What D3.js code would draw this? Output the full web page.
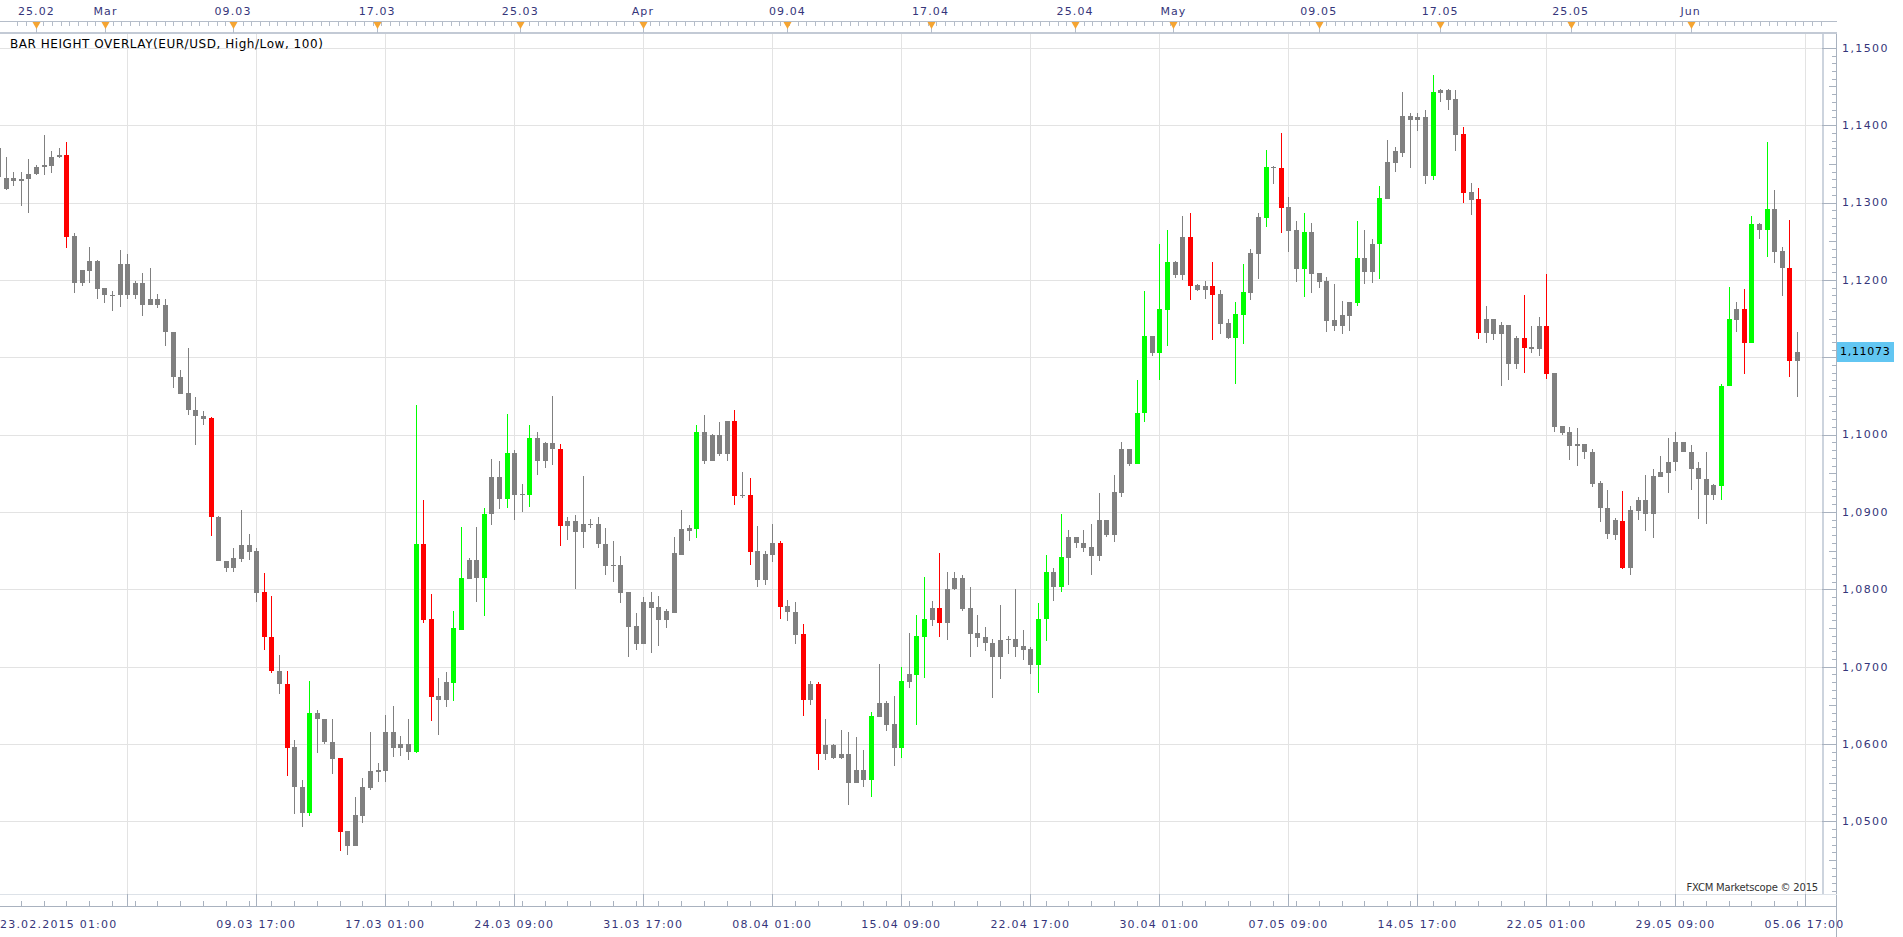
<!DOCTYPE html>
<html>
<head>
<meta charset="utf-8">
<title>EUR/USD bar height overlay</title>
<script src="https://d3js.org/d3.v7.min.js"></script>
<style>
	body { margin: 0; background: #fff; }
	svg { display: block; }
	text { font-family: "DejaVu Sans", Verdana, sans-serif; }
</style>
</head>
<body>
<svg id="chart" width="1903" height="937"></svg>

<script>
// 8 hour candles, 23.02.2015 01:00 .. 05.06.2015 09:00
var open = [
	1.1370,1.1332,1.1328,1.1331,1.1330,1.1337,1.1346,1.1347,1.1359,1.1362,
	1.1257,1.1196,1.1212,1.1225,1.1189,1.1180,1.1180,1.1221,1.1180,1.1196,
	1.1167,1.1175,1.1168,1.1133,1.1075,1.1054,1.1032,1.1024,1.1021,1.0894,
	1.0837,1.0828,1.0839,1.0857,1.0849,1.0796,1.0739,1.0695,1.0678,1.0596,
	1.0545,1.0511,1.0640,1.0633,1.0603,1.0582,1.0487,1.0468,1.0507,1.0543,
	1.0564,1.0565,1.0615,1.0595,1.0600,1.0590,1.0859,1.0761,1.0662,1.0657,
	1.0679,1.0748,1.0813,1.0838,1.0815,1.0897,1.0945,1.0917,1.0976,1.0922,
	1.0922,1.0995,1.0966,1.0989,1.0982,1.0882,1.0888,1.0874,1.0885,1.0884,
	1.0859,1.0830,1.0831,1.0797,1.0752,1.0729,1.0784,1.0777,1.0760,1.0770,
	1.0845,1.0879,1.0878,1.1004,1.0966,1.1000,1.0975,1.1018,1.0920,1.0922,
	1.0849,1.0812,1.0845,1.0860,1.0778,1.0771,1.0742,1.0657,1.0677,1.0587,
	1.0599,1.0582,1.0587,1.0549,1.0566,1.0554,1.0635,1.0653,1.0626,1.0595,
	1.0680,1.0689,1.0739,1.0760,1.0776,1.0756,1.0800,1.0814,1.0776,1.0743,
	1.0738,1.0731,1.0713,1.0736,1.0736,1.0727,1.0723,1.0702,1.0761,1.0823,
	1.0803,1.0841,1.0867,1.0860,1.0855,1.0843,1.0889,1.0870,1.0925,1.0981,
	1.0962,1.1028,1.1127,1.1106,1.1161,1.1223,1.1206,1.1255,1.1194,1.1187,
	1.1192,1.1182,1.1144,1.1125,1.1155,1.1183,1.1234,1.1280,1.1346,1.1344,
	1.1294,1.1264,1.1214,1.1262,1.1209,1.1199,1.1148,1.1141,1.1153,1.1170,
	1.1228,1.1210,1.1247,1.1305,1.1351,1.1364,1.1412,1.1407,1.1411,1.1334,
	1.1442,1.1445,1.1434,1.1389,1.1313,1.1304,1.1131,1.1149,1.1130,1.1142,
	1.1091,1.1125,1.1111,1.1111,1.1141,1.1080,1.1011,1.1003,1.0985,1.0988,
	1.0978,1.0938,1.0905,1.0870,1.0888,1.0828,1.0901,1.0916,1.0897,1.0945,
	1.0951,1.0964,1.0990,1.0978,1.0957,1.0943,1.0922,1.0933,1.1063,1.1148,
	1.1162,1.1119,1.1272,1.1264,1.1292,1.1237,1.1216,1.1095
];
var high = [
	1.1378,1.1359,1.1339,1.1339,1.1356,1.1349,1.1387,1.1366,1.1371,1.1378,
	1.1261,1.1213,1.1242,1.1226,1.1189,1.1185,1.1238,1.1233,1.1198,1.1209,
	1.1215,1.1182,1.1175,1.1133,1.1083,1.1112,1.1049,1.1030,1.1023,1.0895,
	1.0837,1.0853,1.0903,1.0871,1.0853,1.0821,1.0791,1.0715,1.0694,1.0605,
	1.0553,1.0681,1.0644,1.0633,1.0632,1.0582,1.0487,1.0532,1.0556,1.0616,
	1.0576,1.0638,1.0649,1.0611,1.0633,1.1038,1.0916,1.0794,1.0685,1.0693,
	1.0772,1.0880,1.0840,1.0880,1.0905,1.0969,1.0966,1.1026,1.0980,1.0936,
	1.1012,1.1003,1.0990,1.1050,1.0988,1.0893,1.0896,1.0946,1.0891,1.0893,
	1.0879,1.0863,1.0843,1.0797,1.0770,1.0790,1.0797,1.0792,1.0774,1.0867,
	1.0903,1.0883,1.1012,1.1025,1.1001,1.1016,1.1018,1.1032,1.0952,1.0944,
	1.0882,1.0850,1.0885,1.0863,1.0786,1.0783,1.0755,1.0681,1.0680,1.0633,
	1.0600,1.0618,1.0615,1.0609,1.0592,1.0642,1.0704,1.0656,1.0662,1.0699,
	1.0744,1.0767,1.0816,1.0785,1.0847,1.0822,1.0822,1.0819,1.0803,1.0767,
	1.0751,1.0736,1.0780,1.0740,1.0800,1.0747,1.0726,1.0782,1.0845,1.0828,
	1.0898,1.0877,1.0867,1.0877,1.0885,1.0925,1.0890,1.0948,1.0990,1.0981,
	1.1071,1.1186,1.1127,1.1246,1.1264,1.1224,1.1282,1.1287,1.1195,1.1199,
	1.1223,1.1187,1.1150,1.1172,1.1221,1.1240,1.1286,1.1368,1.1347,1.1390,
	1.1307,1.1276,1.1286,1.1273,1.1209,1.1204,1.1195,1.1173,1.1172,1.1276,
	1.1264,1.1253,1.1322,1.1381,1.1372,1.1443,1.1416,1.1416,1.1419,1.1465,
	1.1447,1.1447,1.1445,1.1397,1.1325,1.1319,1.1166,1.1150,1.1146,1.1142,
	1.1128,1.1180,1.1141,1.1152,1.1207,1.1080,1.1011,1.1010,1.1008,1.0988,
	1.0981,1.0940,1.0928,1.0892,1.0927,1.0908,1.0919,1.0948,1.0956,1.0972,
	1.0995,1.1004,1.0990,1.0986,1.0965,1.0977,1.0936,1.1066,1.1191,1.1172,
	1.1188,1.1282,1.1273,1.1378,1.1316,1.1242,1.1278,1.1133
];
var low = [
	1.1300,1.1316,1.1322,1.1295,1.1287,1.1336,1.1336,1.1338,1.1357,1.1241,
	1.1183,1.1192,1.1196,1.1175,1.1170,1.1160,1.1165,1.1175,1.1175,1.1153,
	1.1167,1.1164,1.1114,1.1060,1.1053,1.1025,1.0986,1.1013,1.0869,1.0836,
	1.0823,1.0822,1.0835,1.0838,1.0784,1.0721,1.0692,1.0665,1.0559,1.0510,
	1.0493,1.0507,1.0588,1.0600,1.0561,1.0462,1.0457,1.0468,1.0498,1.0541,
	1.0551,1.0551,1.0583,1.0584,1.0579,1.0588,1.0756,1.0630,1.0612,1.0648,
	1.0656,1.0747,1.0813,1.0783,1.0766,1.0883,1.0904,1.0905,1.0890,1.0900,
	1.0906,1.0948,1.0957,1.0961,1.0856,1.0864,1.0800,1.0853,1.0879,1.0853,
	1.0819,1.0809,1.0782,1.0713,1.0722,1.0729,1.0718,1.0727,1.0750,1.0769,
	1.0845,1.0862,1.0866,1.0962,1.0966,1.0972,1.0966,1.0909,1.0918,1.0832,
	1.0803,1.0805,1.0835,1.0762,1.0759,1.0729,1.0636,1.0650,1.0566,1.0579,
	1.0581,1.0581,1.0521,1.0549,1.0545,1.0531,1.0635,1.0617,1.0571,1.0582,
	1.0672,1.0624,1.0685,1.0753,1.0738,1.0734,1.0799,1.0772,1.0712,1.0725,
	1.0720,1.0660,1.0684,1.0716,1.0712,1.0708,1.0691,1.0666,1.0733,1.0785,
	1.0797,1.0805,1.0853,1.0848,1.0819,1.0836,1.0867,1.0861,1.0919,1.0959,
	1.0962,1.1016,1.1101,1.1071,1.1115,1.1203,1.1200,1.1174,1.1186,1.1175,
	1.1122,1.1130,1.1124,1.1066,1.1117,1.1174,1.1201,1.1269,1.1324,1.1261,
	1.1236,1.1197,1.1178,1.1183,1.1190,1.1133,1.1134,1.1130,1.1134,1.1166,
	1.1195,1.1196,1.1201,1.1304,1.1340,1.1359,1.1344,1.1393,1.1324,1.1329,
	1.1430,1.1419,1.1366,1.1299,1.1284,1.1123,1.1119,1.1122,1.1063,1.1071,
	1.1085,1.1080,1.1105,1.1102,1.1072,1.1003,1.1000,1.0967,1.0960,1.0969,
	1.0932,1.0887,1.0865,1.0864,1.0826,1.0818,1.0889,1.0875,1.0866,1.0945,
	1.0924,1.0953,1.0977,1.0929,1.0891,1.0885,1.0915,1.0916,1.1063,1.1132,
	1.1078,1.1119,1.1253,1.1229,1.1222,1.1179,1.1074,1.1048
];
var close = [
	1.1333,1.1317,1.1332,1.1328,1.1337,1.1346,1.1348,1.1359,1.1362,1.1256,
	1.1196,1.1213,1.1225,1.1188,1.1180,1.1181,1.1221,1.1180,1.1196,1.1167,
	1.1175,1.1167,1.1132,1.1074,1.1053,1.1032,1.1024,1.1020,1.0893,1.0836,
	1.0827,1.0840,1.0857,1.0848,1.0795,1.0738,1.0694,1.0678,1.0595,1.0544,
	1.0511,1.0640,1.0632,1.0603,1.0581,1.0486,1.0468,1.0508,1.0544,1.0565,
	1.0566,1.0615,1.0595,1.0600,1.0590,1.0859,1.0760,1.0661,1.0657,1.0680,
	1.0750,1.0814,1.0838,1.0815,1.0898,1.0945,1.0917,1.0976,1.0922,1.0923,
	1.0995,1.0966,1.0989,1.0981,1.0882,1.0888,1.0874,1.0885,1.0883,1.0859,
	1.0830,1.0831,1.0795,1.0751,1.0729,1.0784,1.0776,1.0760,1.0772,1.0847,
	1.0878,1.0876,1.1004,1.0966,1.1000,1.0975,1.1018,1.0920,1.0922,1.0848,
	1.0812,1.0846,1.0860,1.0777,1.0771,1.0741,1.0657,1.0677,1.0587,1.0599,
	1.0582,1.0587,1.0549,1.0566,1.0554,1.0636,1.0653,1.0624,1.0595,1.0681,
	1.0690,1.0740,1.0761,1.0776,1.0756,1.0800,1.0814,1.0775,1.0742,1.0737,
	1.0730,1.0713,1.0735,1.0734,1.0726,1.0722,1.0702,1.0762,1.0823,1.0803,
	1.0842,1.0867,1.0860,1.0854,1.0843,1.0889,1.0870,1.0926,1.0981,1.0962,
	1.1028,1.1128,1.1106,1.1162,1.1223,1.1206,1.1255,1.1192,1.1187,1.1192,
	1.1181,1.1143,1.1125,1.1156,1.1184,1.1235,1.1281,1.1346,1.1344,1.1293,
	1.1263,1.1214,1.1262,1.1208,1.1197,1.1147,1.1141,1.1155,1.1172,1.1228,
	1.1210,1.1247,1.1306,1.1353,1.1366,1.1412,1.1407,1.1411,1.1334,1.1443,
	1.1445,1.1433,1.1387,1.1312,1.1303,1.1131,1.1149,1.1130,1.1142,1.1091,
	1.1125,1.1112,1.1113,1.1141,1.1078,1.1010,1.1002,1.0985,1.0988,1.0977,
	1.0936,1.0905,1.0871,1.0889,1.0828,1.0902,1.0916,1.0897,1.0946,1.0952,
	1.0965,1.0990,1.0977,1.0956,1.0942,1.0922,1.0935,1.1063,1.1149,1.1162,
	1.1119,1.1272,1.1264,1.1292,1.1236,1.1215,1.1095,1.1107
];

// bars flagged by the bar height overlay (drawn red / green)
var overlayBars = [9,28,35,36,38,41,45,55,56,57,60,61,64,67,70,74,92,97,99,103,
	106,108,115,119,121,122,124,137,138,140,150,151,153,154,157,160,163,164,167,169,
	172,179,182,189,193,195,201,204,214,227,228,230,231,233,236];

var lastPrice = 1.11073;
var priceTicks = [1.05, 1.06, 1.07, 1.08, 1.09, 1.10, 1.11, 1.12, 1.13, 1.14, 1.15];

// bottom labels sit on every 17th bar
var dateLabels = ["23.02.2015 01:00", "", "09.03 17:00", "17.03 01:00", "24.03 09:00",
	"31.03 17:00", "08.04 01:00", "15.04 09:00", "22.04 17:00", "30.04 01:00",
	"07.05 09:00", "14.05 17:00", "22.05 01:00", "29.05 09:00", "05.06 17:00"];
var dateStep = 17;

// top calendar strip (position in bars)
var topLabels = ["25.02", "Mar", "09.03", "17.03", "25.03", "Apr", "09.04", "17.04",
	"25.04", "May", "09.05", "17.05", "25.05", "Jun"];
var topLabelPos = [5.05, 14.15, 30.95, 49.95, 68.8, 84.95, 104, 122.85, 141.9, 154.85,
	174, 190, 207.2, 223];

var svg = d3.select("#chart");
var W = 1903, H = 937;
var plotLeft = 0, plotRight = 1822, plotTop = 34, plotBottom = 894;
var axisX = 1836.5;
var labelColor = "#35357a";

var x = d3.scaleLinear().domain([0, 238]).range([-1.9, 1804.5]);
var y = d3.scaleLinear().domain([1.05, 1.15]).range([821.4, 47.8]);

svg.append("rect").attr("width", W).attr("height", H).attr("fill", "#fff");

// grid
var grid = svg.append("g").attr("shape-rendering", "crispEdges");
grid.selectAll("line.h").data(priceTicks).enter().append("line")
	.attr("x1", plotLeft).attr("x2", plotRight)
	.attr("y1", function (d) { return Math.round(y(d)) + 0.5; })
	.attr("y2", function (d) { return Math.round(y(d)) + 0.5; })
	.attr("stroke", "#e3e3e3");
grid.selectAll("line.v").data(d3.range(1, dateLabels.length)).enter().append("line")
	.attr("x1", function (k) { return Math.round(x(k * dateStep)) + 0.5; })
	.attr("x2", function (k) { return Math.round(x(k * dateStep)) + 0.5; })
	.attr("y1", plotTop).attr("y2", plotBottom)
	.attr("stroke", "#e3e3e3");

// candles
svg.append("clipPath").attr("id", "plotclip").append("rect")
	.attr("x", plotLeft).attr("y", plotTop)
	.attr("width", plotRight - plotLeft).attr("height", plotBottom - plotTop);

var bars = d3.range(open.length).map(function (i) {
	return { i: i, o: open[i], h: high[i], l: low[i], c: close[i] };
});

function barColor(d) {
	if (overlayBars.indexOf(d.i) < 0) return "#808080";
	return d.c < d.o ? "#ff0000" : "#00ff00";
}

var candles = svg.append("g").attr("clip-path", "url(#plotclip)")
	.attr("shape-rendering", "crispEdges")
	.selectAll("g.bar").data(bars).enter().append("g").attr("class", "bar");

candles.append("rect")
	.attr("x", function (d) { return Math.round(x(d.i)); })
	.attr("width", 1)
	.attr("y", function (d) { return Math.round(y(d.h)); })
	.attr("height", function (d) { return Math.max(1, Math.round(y(d.l)) - Math.round(y(d.h))); })
	.attr("fill", barColor);

candles.append("rect")
	.attr("x", function (d) { return Math.round(x(d.i)) - 2; })
	.attr("width", 5)
	.attr("y", function (d) { return Math.round(y(Math.max(d.o, d.c))); })
	.attr("height", function (d) {
		return Math.max(1, Math.round(y(Math.min(d.o, d.c))) - Math.round(y(Math.max(d.o, d.c))));
	})
	.attr("fill", barColor);

// frame and right axis
var frame = svg.append("g").attr("shape-rendering", "crispEdges");
frame.append("line").attr("x1", plotRight + 0.5).attr("x2", plotRight + 0.5)
	.attr("y1", plotTop).attr("y2", plotBottom).attr("stroke", "#cdd4de").attr("stroke-width", 2);
frame.append("line").attr("x1", axisX).attr("x2", axisX)
	.attr("y1", plotTop).attr("y2", H).attr("stroke", "#a9b2bf");

frame.selectAll("line.minor").data(d3.range(1040, 1151)).enter().append("line")
	.attr("x1", function (d) { return d % 10 === 0 ? plotRight : (d % 5 === 0 ? axisX - 8 : axisX - 5); })
	.attr("x2", axisX)
	.attr("y1", function (d) { return Math.round(y(d / 1000)) + 0.5; })
	.attr("y2", function (d) { return Math.round(y(d / 1000)) + 0.5; })
	.attr("stroke", "#a9b2bf")
	.style("display", function (d) { return y(d / 1000) < plotTop || y(d / 1000) > plotBottom ? "none" : null; });

svg.selectAll("text.price").data(priceTicks).enter().append("text")
	.attr("x", 1842).attr("y", function (d) { return y(d); })
	.attr("dy", "0.35em")
	.attr("font-size", 11).attr("letter-spacing", 1.4)
	.attr("fill", labelColor)
	.text(function (d) { return d.toFixed(4).replace(".", ","); });

// current price marker
svg.append("rect").attr("x", 1837).attr("y", Math.round(y(lastPrice)) - 10)
	.attr("width", 57).attr("height", 20).attr("fill", "#62c6f2");
svg.append("text").attr("x", 1840).attr("y", y(lastPrice)).attr("dy", "0.35em")
	.attr("font-size", 11).attr("letter-spacing", 0.7).attr("fill", "#000")
	.text(lastPrice.toFixed(5).replace(".", ","));

// top calendar strip
var topStrip = svg.append("g").attr("shape-rendering", "crispEdges");
topStrip.append("line").attr("x1", 0).attr("x2", axisX).attr("y1", 21.5).attr("y2", 21.5).attr("stroke", "#b5bdc9");
topStrip.append("line").attr("x1", 0).attr("x2", axisX).attr("y1", 33).attr("y2", 33).attr("stroke", "#c3cad5").attr("stroke-width", 2);
topStrip.selectAll("line.tick").data(d3.range(17.3, plotRight, 8.67)).enter().append("line")
	.attr("x1", function (d) { return Math.round(d) + 0.5; })
	.attr("x2", function (d) { return Math.round(d) + 0.5; })
	.attr("y1", 22).attr("y2", 26).attr("stroke", "#b5bdc9");
topStrip.selectAll("line.mark").data(topLabelPos).enter().append("line")
	.attr("x1", function (d) { return Math.round(x(d)) + 0.5; })
	.attr("x2", function (d) { return Math.round(x(d)) + 0.5; })
	.attr("y1", 22).attr("y2", 33).attr("stroke", "#b5bdc9");
svg.selectAll("path.marker").data(topLabelPos).enter().append("path")
	.attr("d", function (d) {
		var cx = Math.round(x(d)) + 0.5;
		return "M" + (cx - 4) + ",22L" + (cx + 4) + ",22L" + cx + ",29Z";
	})
	.attr("fill", "#f5a431");
svg.selectAll("text.top").data(topLabels).enter().append("text")
	.attr("x", function (d, i) { return x(topLabelPos[i]); })
	.attr("y", 15)
	.attr("text-anchor", "middle")
	.attr("font-size", 11).attr("letter-spacing", 1.1)
	.attr("fill", labelColor)
	.text(function (d) { return d; });

// indicator caption
svg.append("text").attr("x", 10).attr("y", 48)
	.attr("font-size", 12).attr("letter-spacing", 0.55).attr("fill", "#000")
	.text("BAR HEIGHT OVERLAY(EUR/USD, High/Low, 100)");

// bottom time axis
var bottomAxis = svg.append("g").attr("shape-rendering", "crispEdges");
bottomAxis.append("line").attr("x1", 0).attr("x2", axisX).attr("y1", plotBottom + 0.5).attr("y2", plotBottom + 0.5).attr("stroke", "#dde2e8");
bottomAxis.append("line").attr("x1", 0).attr("x2", axisX).attr("y1", 906.5).attr("y2", 906.5).attr("stroke", "#a9b2bf");
bottomAxis.selectAll("line.day").data(d3.range(3, 238, 3)).enter().append("line")
	.attr("x1", function (d) { return Math.round(x(d)) + 0.5; })
	.attr("x2", function (d) { return Math.round(x(d)) + 0.5; })
	.attr("y1", 901).attr("y2", 906).attr("stroke", "#a9b2bf");
bottomAxis.selectAll("line.major").data(d3.range(1, dateLabels.length)).enter().append("line")
	.attr("x1", function (k) { return Math.round(x(k * dateStep)) + 0.5; })
	.attr("x2", function (k) { return Math.round(x(k * dateStep)) + 0.5; })
	.attr("y1", plotBottom).attr("y2", 906).attr("stroke", "#a9b2bf");

svg.selectAll("text.date").data(dateLabels).enter().append("text")
	.attr("x", function (d, k) { return k === 0 ? 0 : x(k * dateStep); })
	.attr("y", 928)
	.attr("text-anchor", function (d, k) { return k === 0 ? "start" : "middle"; })
	.attr("font-size", 11).attr("letter-spacing", 1.2)
	.attr("fill", labelColor)
	.text(function (d) { return d; });

// watermark
svg.append("text").attr("x", 1818).attr("y", 891)
	.attr("text-anchor", "end")
	.attr("font-size", 10).attr("letter-spacing", -0.2).attr("fill", "#333")
	.text("FXCM Marketscope \u00a9 2015");
</script>
</body>
</html>
